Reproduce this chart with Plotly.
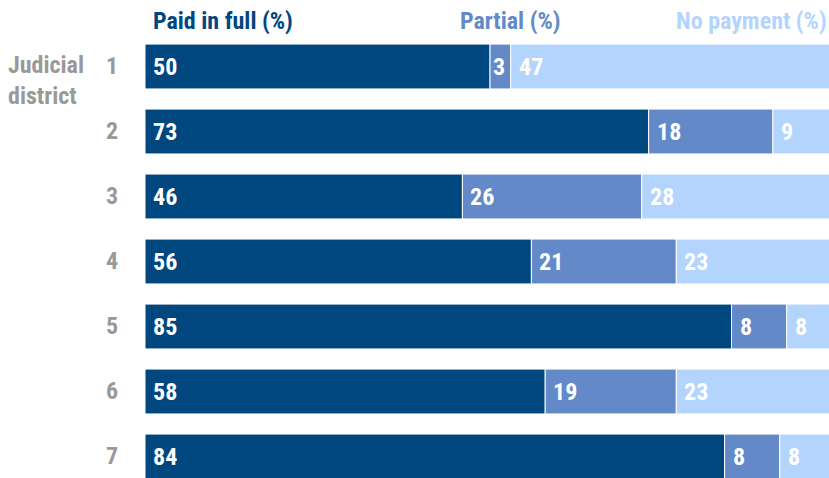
import plotly.graph_objects as go

districts = ["1", "2", "3", "4", "5", "6", "7"]
paid_full = [50, 73, 46, 56, 85, 58, 84]
partial = [3, 18, 26, 21, 8, 19, 8]
no_payment = [47, 9, 28, 23, 8, 23, 8]

series_names = ["Paid in full (%)", "Partial (%)", "No payment (%)"]
colors = ["#00467F", "#6389C8", "#B3D5FD"]
FONT = "Roboto Condensed, Liberation Sans Narrow, DejaVu Sans Condensed, Roboto, sans-serif"

def f(size, color):
    return dict(family=FONT, size=size, color=color, weight="bold")

ypos = list(range(len(districts)))
fig = go.Figure()
annotations = []
series = [paid_full, partial, no_payment]
base = [0] * len(districts)
for name, vals, col in zip(series_names, series, colors):
    fig.add_trace(go.Bar(
        y=ypos, x=vals, base=base[:], orientation="h", name=name,
        marker=dict(color=col, line=dict(color="white", width=1)),
        width=0.69, showlegend=False, hoverinfo="x+name",
    ))
    for i, (b, v) in enumerate(zip(base, vals)):
        annotations.append(dict(
            x=b, y=ypos[i], xref="x", yref="y", text=str(v), showarrow=False,
            xanchor="left", yanchor="middle", xshift=1 if v < 5 else 6,
            font=f(24, "white"),
        ))
    base = [b + v for b, v in zip(base, vals)]

# y-axis district labels
for i, d in enumerate(districts):
    annotations.append(dict(
        x=-25 / 684, y=ypos[i], xref="paper", yref="y", text=d, showarrow=False,
        xanchor="right", yanchor="middle", yshift=1,
        font=f(24, "#999999"),
    ))

annotations.append(dict(
    x=-139 / 684, y=0, xref="paper", yref="y", text="Judicial<br>district",
    showarrow=False, xanchor="left", yanchor="top", yshift=18, align="left",
    font=f(24, "#999999"),
))

# header labels
header_x = [151, 458, 829]
header_anchor = ["left", "left", "right"]
for name, col, hx, ha in zip(series_names, colors, header_x, header_anchor):
    annotations.append(dict(
        x=(hx - 145) / 684, y=1, xref="paper", yref="paper", text=name,
        showarrow=False, xanchor=ha, yanchor="bottom", yshift=-3,
        font=f(24, col),
    ))

fig.update_layout(
    width=829, height=478,
    margin=dict(l=145, r=0, t=34, b=0),
    paper_bgcolor="white", plot_bgcolor="white",
    barmode="overlay",
    xaxis=dict(range=[0, 684 / 6.9], visible=False, fixedrange=True),
    yaxis=dict(range=[-0.5 + 444 / 65, -0.5], visible=False, fixedrange=True),
    annotations=annotations,
    font=dict(family=FONT),
)

fig.write_html("out.html", config={"displayModeBar": False},
               post_script="document.body.style.margin='0';")
